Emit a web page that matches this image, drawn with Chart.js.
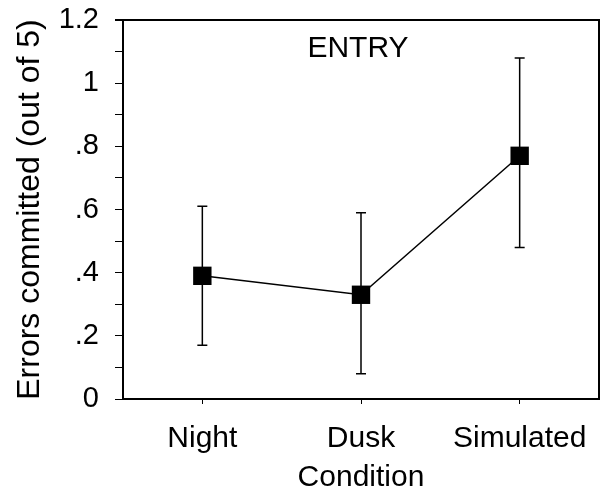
<!DOCTYPE html>
<html lang="en">
<head>
    <meta charset="UTF-8">
    <title>Entry errors</title>
    <style>
        html, body { margin: 0; padding: 0; background: #fff; }
        #wrap { width: 600px; height: 493px; }
    </style>
</head>
<body>
<div id="wrap">
    <canvas id="chart" width="600" height="493"></canvas>
</div>

<script src="https://cdn.jsdelivr.net/npm/chart.js@4.4.0/dist/chart.umd.min.js"></script>
<script>
    // datos
    const condiciones = ["Night", "Dusk", "Simulated"];
    const errores = [0.39, 0.33, 0.77];
    const errorBajo = [0.17, 0.08, 0.48];
    const errorAlto = [0.61, 0.59, 1.08];
    const yTicks = [0, 0.1, 0.2, 0.3, 0.4, 0.5, 0.6, 0.7, 0.8, 0.9, 1.0, 1.1, 1.2];
    const yTickLabels = ["0", "", ".2", "", ".4", "", ".6", "", ".8", "", "1", "", "1.2"];

    const fuente = "'Liberation Sans', Arial, Helvetica, sans-serif";

    // barras de error + marco + texto ENTRY
    const extras = {
        id: 'extras',
        beforeDatasetsDraw(chart) {
            const ctx = chart.ctx;
            const x = chart.scales.x;
            const y = chart.scales.y;
            ctx.save();
            ctx.strokeStyle = '#000';
            ctx.lineWidth = 1.5;
            for (let i = 0; i < condiciones.length; i++) {
                const px = x.getPixelForValue(i);
                const top = y.getPixelForValue(errorAlto[i]);
                const bot = y.getPixelForValue(errorBajo[i]);
                ctx.beginPath();
                ctx.moveTo(px, top);
                ctx.lineTo(px, bot);
                ctx.moveTo(px - 5, top);
                ctx.lineTo(px + 5, top);
                ctx.moveTo(px - 5, bot);
                ctx.lineTo(px + 5, bot);
                ctx.stroke();
            }
            // marco superior y derecho
            const a = chart.chartArea;
            ctx.lineWidth = 2;
            ctx.beginPath();
            ctx.moveTo(a.left - 8, a.top);
            ctx.lineTo(a.right, a.top);
            ctx.lineTo(a.right, a.bottom);
            ctx.stroke();
            // titulo dentro del grafico
            ctx.fillStyle = '#000';
            ctx.font = "30px " + fuente;
            ctx.textAlign = 'center';
            ctx.textBaseline = 'middle';
            ctx.fillText("ENTRY", (a.left + a.right) / 2 - 3, a.top + 29);
            ctx.restore();
        }
    };

    const data = {
        labels: condiciones,
        datasets: [{
            label: 'Errors',
            data: errores,
            borderColor: '#000',
            borderWidth: 1.5,
            backgroundColor: '#000',
            pointStyle: 'rect',
            pointRadius: 13,
            pointHoverRadius: 13,
            pointBorderWidth: 0,
            pointBackgroundColor: '#000',
            tension: 0
        }]
    };

    const config = {
        type: 'line',
        data: data,
        plugins: [extras],
        options: {
            responsive: false,
            animation: false,
            layout: { autoPadding: false, padding: { top: 20, right: 1, left: 0, bottom: 0 } },
            plugins: {
                legend: { display: false },
                tooltip: { enabled: false }
            },
            scales: {
                x: {
                    type: 'category',
                    offset: true,
                    afterFit(scale) {
                        scale.height = 94;
                        scale.paddingLeft = 0;
                        scale.paddingRight = 0;
                    },
                    grid: { drawOnChartArea: false, drawTicks: true, tickLength: 5, color: '#000', offset: false },
                    border: { display: true, color: '#000', width: 2 },
                    ticks: { color: '#000', padding: 17, font: { family: fuente, size: 30 } },
                    title: {
                        display: true,
                        text: 'Condition',
                        color: '#000',
                        padding: { top: 0, bottom: 0 },
                        font: { family: fuente, size: 30, lineHeight: 1 }
                    }
                },
                y: {
                    min: 0,
                    max: 1.2,
                    afterFit(scale) {
                        scale.width = 123;
                        scale.paddingTop = 0;
                        scale.paddingBottom = 0;
                    },
                    afterBuildTicks(scale) {
                        scale.ticks = yTicks.map(v => ({ value: v }));
                    },
                    grid: { drawOnChartArea: false, drawTicks: true, tickLength: 8, color: '#000' },
                    border: { display: true, color: '#000', width: 2 },
                    ticks: {
                        color: '#000',
                        padding: 16,
                        autoSkip: false,
                        font: { family: fuente, size: 29 },
                        callback: (v, i) => yTickLabels[i]
                    },
                    title: {
                        display: true,
                        text: 'Errors committed (out of 5)',
                        color: '#000',
                        padding: { top: 14, bottom: 0 },
                        font: { family: fuente, size: 32, lineHeight: 1 }
                    }
                }
            }
        }
    };

    const chart = new Chart(document.getElementById("chart").getContext("2d"), config);
</script>
</body>
</html>
